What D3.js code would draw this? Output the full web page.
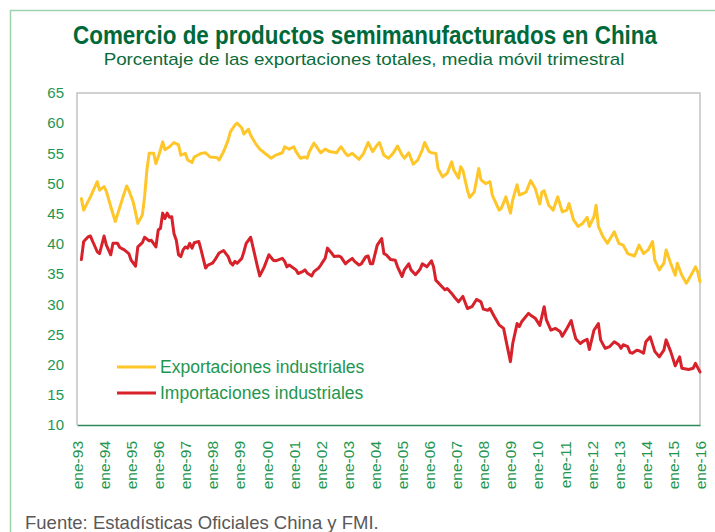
<!DOCTYPE html>
<meta charset="utf-8">
<head>
    <title>Comercio de productos semimanufacturados en China</title>
</head>
<style>
    body { margin: 0; background: #fff; }
    svg { display: block; font-family: "Liberation Sans", Arial, sans-serif; }
    .axis text { fill: #1e9650; font-size: 15px; }
    .series { fill: none; stroke-width: 3px; stroke-linejoin: round; stroke-linecap: round; }
    .legend text { fill: #1e9650; font-size: 17.5px; }
</style>
<svg width="715" height="532"></svg>
<script src="https://d3js.org/d3.v7.min.js"></script>
<script>

    // months (3-month moving average), and values in %
    var expMonths = ["1993-03","1993-04","1993-07","1993-10","1993-11","1994-01","1994-02","1994-04","1994-06","1994-09",
        "1994-11","1994-12","1995-02","1995-04","1995-06","1995-07","1995-08","1995-09","1995-11","1995-12",
        "1996-01","1996-02","1996-03","1996-04","1996-06","1996-08","1996-10","1996-11","1997-01","1997-02",
        "1997-04","1997-05","1997-08","1997-10","1997-12","1998-03","1998-04","1998-06","1998-08","1998-09",
        "1998-11","1998-12","1999-02","1999-03","1999-05","1999-06","1999-08","1999-10","1999-12","2000-03",
        "2000-05","2000-08","2000-09","2000-11","2001-01","2001-02","2001-04","2001-06","2001-07","2001-08",
        "2001-10","2002-01","2002-03","2002-05","2002-08","2002-10","2002-12","2003-01","2003-03","2003-06",
        "2003-08","2003-10","2003-12","2004-02","2004-03","2004-05","2004-07","2004-09","2004-11","2005-01",
        "2005-02","2005-04","2005-06","2005-08","2005-10","2005-11","2006-01","2006-02","2006-04","2006-05",
        "2006-07","2006-09","2006-11","2006-12","2007-02","2007-03","2007-04","2007-06","2007-07","2007-09",
        "2007-11","2007-12","2008-02","2008-04","2008-05","2008-08","2008-09","2008-11","2009-01","2009-02",
        "2009-04","2009-05","2009-07","2009-08","2009-10","2009-12","2010-02","2010-03","2010-04","2010-06",
        "2010-08","2010-10","2010-12","2011-02","2011-03","2011-05","2011-07","2011-09","2011-11","2011-12",
        "2012-02","2012-03","2012-04","2012-06","2012-08","2012-11","2013-01","2013-03","2013-05","2013-08",
        "2013-10","2013-12","2014-02","2014-04","2014-05","2014-07","2014-09","2014-10","2014-12","2015-02",
        "2015-03","2015-05","2015-07","2015-09","2015-11","2015-12","2016-01"];
    var expValues = [47.5,45.6,47.8,50.3,48.9,49.5,48.7,46.2,43.7,47.3,
        49.6,48.9,46.8,43.4,44.8,47.8,52.2,55.0,55.0,53.3,
        54.4,55.6,56.9,55.6,56.1,56.8,56.4,54.7,55.0,53.9,
        53.5,54.4,55.0,55.1,54.4,54.3,53.9,55.3,57.2,58.6,
        59.7,60.0,59.2,58.2,59.0,58.0,56.7,55.7,55.1,54.2,
        54.7,55.1,56.1,55.7,56.1,55.3,54.2,54.4,54.2,55.3,
        56.7,55.1,55.7,55.3,55.1,56.1,55.0,54.6,55.0,54.0,
        55.0,56.8,55.3,56.4,56.8,54.7,54.2,55.0,56.2,54.7,
        54.2,55.1,53.2,53.9,55.6,56.8,55.3,55.1,55.0,52.5,
        51.1,51.7,53.6,52.2,50.9,52.8,52.2,48.9,47.7,48.6,
        52.5,50.6,50.0,50.3,48.1,45.6,45.9,47.8,45.1,47.3,
        49.8,48.1,48.4,48.6,50.5,49.2,46.6,48.6,48.8,46.4,
        45.6,47.8,45.3,45.6,46.7,44.0,42.9,43.4,44.4,42.9,
        44.5,46.4,42.9,41.2,40.1,42.0,40.1,39.8,38.4,38.0,
        39.8,38.4,39.0,40.4,37.3,35.7,36.8,39.0,36.8,34.8,
        36.8,34.8,33.5,34.8,36.2,35.4,33.7];

    var impMonths = ["1993-03","1993-04","1993-06","1993-07","1993-08","1993-10","1993-11","1994-01","1994-02","1994-04",
        "1994-05","1994-07","1994-08","1994-10","1994-12","1995-01","1995-03","1995-04","1995-06","1995-07",
        "1995-09","1995-10","1995-12","1996-01","1996-02","1996-03","1996-04","1996-05","1996-06","1996-07",
        "1996-08","1996-09","1996-10","1996-11","1996-12","1997-01","1997-02","1997-03","1997-04","1997-05",
        "1997-07","1997-08","1997-10","1997-11","1998-01","1998-02","1998-04","1998-06","1998-08","1998-09",
        "1998-10","1998-11","1998-12","1999-02","1999-03","1999-04","1999-06","1999-07","1999-09","1999-10",
        "1999-12","2000-02","2000-04","2000-05","2000-08","2000-09","2000-10","2000-11","2001-02","2001-03",
        "2001-05","2001-06","2001-07","2001-09","2001-10","2001-12","2002-01","2002-02","2002-03","2002-04",
        "2002-06","2002-07","2002-09","2002-10","2002-12","2003-01","2003-03","2003-04","2003-06","2003-07",
        "2003-09","2003-10","2003-11","2003-12","2004-02","2004-04","2004-05","2004-06","2004-08","2004-10",
        "2004-11","2005-01","2005-02","2005-04","2005-05","2005-07","2005-09","2005-10","2005-12","2006-02",
        "2006-03","2006-04","2006-06","2006-08","2006-09","2006-11","2006-12","2007-02","2007-04","2007-06",
        "2007-08","2007-10","2007-12","2008-01","2008-03","2008-04","2008-06","2008-08","2008-10","2008-11",
        "2009-01","2009-02","2009-04","2009-05","2009-06","2009-09","2009-10","2009-12","2010-02","2010-04",
        "2010-05","2010-07","2010-09","2010-11","2010-12","2011-02","2011-04","2011-05","2011-06","2011-08",
        "2011-09","2011-11","2011-12","2012-02","2012-04","2012-05","2012-07","2012-09","2012-11","2013-01",
        "2013-02","2013-03","2013-05","2013-06","2013-07","2013-09","2013-10","2013-12","2014-01","2014-03",
        "2014-05","2014-07","2014-09","2014-10","2014-12","2015-02","2015-04","2015-05","2015-08","2015-10",
        "2015-11","2016-01"];
    var impValues = [37.4,40.4,41.2,41.3,40.4,38.7,38.4,41.3,39.8,38.2,
        40.1,40.1,39.4,39.0,38.4,37.3,36.3,39.5,40.2,41.1,
        40.5,40.6,39.5,42.3,42.6,45.1,44.2,45.1,44.4,44.5,
        41.7,40.6,38.2,37.9,39.0,39.5,39.3,40.1,39.3,40.2,
        40.4,39.0,36.0,36.5,36.8,37.3,38.5,38.9,37.9,36.9,
        36.5,37.1,36.8,37.6,38.7,40.1,41.1,39.5,36.2,34.7,
        36.2,38.2,37.3,37.2,37.6,37.1,36.2,36.5,35.7,35.1,
        35.4,35.7,35.2,34.7,35.4,36.0,36.5,37.1,37.6,39.3,
        38.4,37.9,38.0,37.8,36.7,37.1,37.6,37.1,36.5,36.7,
        37.9,38.0,36.7,36.7,39.8,40.9,38.4,38.2,37.4,37.3,
        36.2,34.6,35.7,36.7,35.7,34.9,35.8,36.7,36.2,37.2,
        36.2,34.0,33.2,32.4,32.6,31.8,31.3,30.4,31.3,29.3,
        29.6,30.8,30.4,29.2,29.0,29.3,27.9,26.6,26.0,24.1,
        20.5,23.5,26.8,26.3,27.1,28.5,28.2,27.7,26.5,29.6,
        27.4,25.7,26.0,25.5,24.7,26.0,27.3,25.7,24.3,23.5,
        23.8,24.2,22.5,25.7,26.8,24.1,22.7,23.0,23.8,23.3,
        22.7,23.3,23.0,22.0,21.9,22.4,22.3,21.9,23.8,24.6,
        22.2,21.3,22.4,24.1,22.2,19.8,21.3,19.4,19.2,19.4,
        20.2,18.8];

    var yTicks = [10, 15, 20, 25, 30, 35, 40, 45, 50, 55, 60, 65];
    var seriesNames = ["Exportaciones industriales", "Importaciones industriales"];
    var seriesColors = ["#ffc629", "#d7212b"];

    var svg = d3.select("svg"),
        parse = d3.timeParse("%Y-%m"),
        margin = {top: 93, right: 15, bottom: 107, left: 77},
        width = +svg.attr("width") - margin.left - margin.right,
        height = +svg.attr("height") - margin.top - margin.bottom;

    var exportsData = expMonths.map(function(m, i) { return {date: parse(m), value: expValues[i]}; });
    var importsData = impMonths.map(function(m, i) { return {date: parse(m), value: impValues[i]}; });

    // outer frame (light green)
    svg.append("line").attr("x1", 10).attr("x2", 715).attr("y1", 10.5).attr("y2", 10.5)
        .attr("stroke", "#9fd3b0").attr("stroke-width", 1.5);
    svg.append("line").attr("x1", 10.5).attr("x2", 10.5).attr("y1", 10).attr("y2", 532)
        .attr("stroke", "#9fd3b0").attr("stroke-width", 1.5);

    // squeeze a text horizontally so that it spans the wanted width
    function squeeze(sel, cx, cy, wanted) {
        var w = sel.node().getComputedTextLength();
        sel.attr("transform", "translate(" + cx + "," + cy + ") scale(" + (wanted / w).toFixed(4) + ",1)");
    }

    var title = svg.append("text")
        .attr("text-anchor", "middle")
        .style("font-weight", "bold").style("font-size", "25.5px").style("fill", "#00693a")
        .text("Comercio de productos semimanufacturados en China");
    squeeze(title, 365, 44, 584);

    var subtitle = svg.append("text")
        .attr("text-anchor", "middle")
        .style("font-size", "17px").style("fill", "#0b6b3a")
        .text("Porcentaje de las exportaciones totales, media móvil trimestral");
    squeeze(subtitle, 364, 65, 521);

    svg.append("text")
        .attr("x", 25).attr("y", 529)
        .style("font-size", "18.5px").style("fill", "#595959")
        .text("Fuente: Estadísticas Oficiales China y FMI.");

    var g = svg.append("g").attr("transform", "translate(" + margin.left + "," + margin.top + ")");

    var x = d3.scaleTime()
        .domain([parse("1993-01"), parse("2016-01")])
        .range([0, width]);
    var y = d3.scaleLinear()
        .domain([10, 65])
        .range([height, 0]);

    // plot frame
    g.append("path")
        .attr("d", "M0," + height + "V0H" + width + "V" + height)
        .attr("fill", "none").attr("stroke", "#c4c4c4").attr("stroke-width", 1.5);

    g.append("g").attr("class", "axis")
        .call(d3.axisLeft(y).tickValues(yTicks).tickSize(0).tickPadding(13))
        .call(function(s) { s.select(".domain").remove(); });

    var fmt = d3.timeFormat("%y");
    var xAxis = g.append("g").attr("class", "axis")
        .attr("transform", "translate(0," + height + ")")
        .call(d3.axisBottom(x).ticks(d3.timeYear.every(1)).tickSize(0)
            .tickFormat(function(d) { return "ene-" + fmt(d); }));
    xAxis.select(".domain").attr("stroke", "#2e8b57").attr("stroke-width", 1.5);
    xAxis.selectAll("text")
        .attr("transform", "rotate(-90)")
        .attr("x", -16).attr("y", 0).attr("dy", "0.35em")
        .style("text-anchor", "end").style("font-size", "15.5px");

    var line = d3.line()
        .x(function(d) { return x(d.date); })
        .y(function(d) { return y(d.value); });

    g.append("path").datum(exportsData).attr("class", "series")
        .attr("stroke", seriesColors[0]).attr("d", line);
    g.append("path").datum(importsData).attr("class", "series")
        .attr("stroke", seriesColors[1]).attr("d", line);

    // legend
    var legend = g.append("g").attr("class", "legend")
        .attr("transform", "translate(40," + (y(19.6)) + ")");
    var item = legend.selectAll("g").data(seriesNames).enter().append("g")
        .attr("transform", function(d, i) { return "translate(0," + (i * 26) + ")"; });
    item.append("line").attr("x1", 0).attr("x2", 39)
        .attr("stroke", function(d, i) { return seriesColors[i]; })
        .attr("stroke-width", 3);
    item.append("text").attr("x", 43).attr("dy", "0.36em").text(function(d) { return d; });

</script>
